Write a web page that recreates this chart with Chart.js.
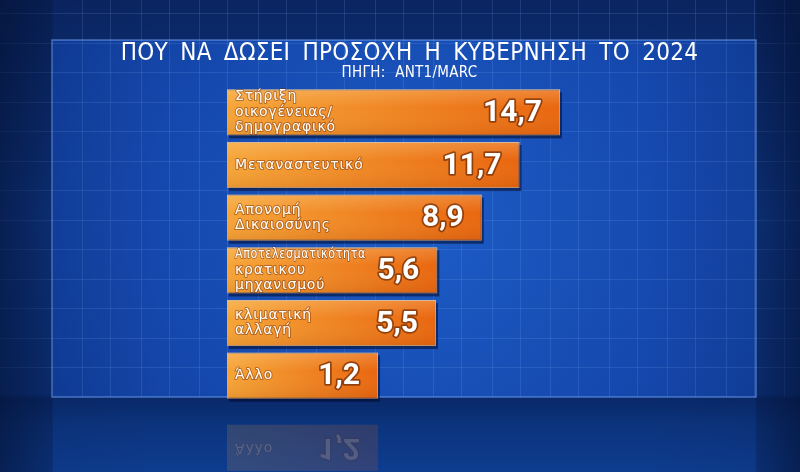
<!DOCTYPE html>
<html>
<head>
<meta charset="utf-8">
<script src="https://cdn.jsdelivr.net/npm/chart.js@4/dist/chart.umd.min.js"></script>
<style>
  html, body { margin: 0; padding: 0; background: #0b2a66; }
  #wrap { width: 800px; height: 472px; }
</style>
</head>
<body>
<div id="wrap"><canvas id="topics"></canvas></div>
<script>
// data
const categories = [
  ["Στήριξη", "οικογένειας/", "δημογραφικό"],
  ["Μεταναστευτικό"],
  ["Απονομή", "Δικαιοσύνης"],
  ["Αποτελεσματικότητα", "κρατικου", "μηχανισμού"],
  ["κλιματική", "αλλαγή"],
  ["Άλλο"]
];
const values = [14.7, 11.7, 8.9, 5.6, 5.5, 1.2];
const titleText = "ΠΟΥ ΝΑ ΔΩΣΕΙ ΠΡΟΣΟΧΗ Η ΚΥΒΕΡΝΗΣΗ ΤΟ 2024";
const sourceText = "ΠΗΓΗ: ΑΝΤ1/MARC";

// bars start from a fixed label block, this is the value at its left edge
const barBase = -10;

function fmt(v) {
  return v.toFixed(1).replace('.', ',');
}

// studio background: blue wall with a grid, a lighter panel and a floor
const studioBackground = {
  id: 'studioBackground',
  beforeDraw(chart) {
    const ctx = chart.ctx;
    const w = chart.width, h = chart.height;
    ctx.save();
    let g = ctx.createLinearGradient(0, 0, 0, h);
    g.addColorStop(0, '#0a2561');
    g.addColorStop(0.45, '#0f3a8c');
    g.addColorStop(0.835, '#0d3582');
    g.addColorStop(0.845, '#09296a');
    g.addColorStop(0.9, '#0c347d');
    g.addColorStop(1, '#0e3c8f');
    ctx.fillStyle = g;
    ctx.fillRect(0, 0, w, h);

    // panel
    const px = 52, py = 40, pw = 704, ph = 357;
    g = ctx.createRadialGradient(420, 220, 30, 420, 220, 420);
    g.addColorStop(0, '#1c5ac4');
    g.addColorStop(0.6, '#1548ad');
    g.addColorStop(1, '#103c98');
    ctx.fillStyle = g;
    ctx.fillRect(px, py, pw, ph);

    // grid lines
    ctx.strokeStyle = 'rgba(140,185,255,0.15)';
    ctx.lineWidth = 1;
    ctx.beginPath();
    for (const off of [82, 110]) {
      for (let x = off; x < w; x += 58.5) {
        ctx.moveTo(Math.round(x) + 0.5, 0);
        ctx.lineTo(Math.round(x) + 0.5, 397);
      }
    }
    for (const off of [13, 43]) {
      for (let y = off; y < 397; y += 59) {
        ctx.moveTo(0, Math.round(y) + 0.5);
        ctx.lineTo(w, Math.round(y) + 0.5);
      }
    }
    ctx.stroke();

    // darker sides
    g = ctx.createLinearGradient(0, 0, w, 0);
    g.addColorStop(0, 'rgba(3,14,45,0.6)');
    g.addColorStop(0.065, 'rgba(3,14,45,0.3)');
    g.addColorStop(0.067, 'rgba(3,14,45,0.06)');
    g.addColorStop(0.2, 'rgba(3,14,45,0)');
    g.addColorStop(0.8, 'rgba(3,14,45,0)');
    g.addColorStop(0.944, 'rgba(3,14,45,0.06)');
    g.addColorStop(0.946, 'rgba(3,14,45,0.3)');
    g.addColorStop(1, 'rgba(3,14,45,0.6)');
    ctx.fillStyle = g;
    ctx.fillRect(0, 0, w, h);

    // panel border
    ctx.strokeStyle = 'rgba(130,180,255,0.5)';
    ctx.lineWidth = 1.5;
    ctx.strokeRect(px, py, pw, ph);
    ctx.restore();

    // title letters are spaced out on the TV graphic
    ctx.letterSpacing = '0.3px';
    ctx.wordSpacing = '5px';
  }
};

// bar shadows, highlight, labels, values and the floor reflection
const barText = {
  id: 'barText',
  beforeDatasetsDraw(chart) {
    const ctx = chart.ctx;
    ctx.letterSpacing = '0px';
    ctx.wordSpacing = '0px';
    ctx.save();
    chart.getDatasetMeta(0).data.forEach(bar => {
      const top = bar.y - bar.height / 2;
      ctx.fillStyle = 'rgba(2,10,40,0.55)';
      ctx.fillRect(bar.base + 2, top + 3, bar.x - bar.base, bar.height);
    });
    ctx.restore();
  },
  afterDatasetsDraw(chart) {
    const ctx = chart.ctx;
    const meta = chart.getDatasetMeta(0);
    ctx.save();
    meta.data.forEach((bar, i) => {
      const top = bar.y - bar.height / 2;
      // top highlight
      const hg = ctx.createLinearGradient(0, top, 0, top + bar.height);
      hg.addColorStop(0, 'rgba(255,230,180,0.25)');
      hg.addColorStop(0.4, 'rgba(255,230,180,0)');
      hg.addColorStop(1, 'rgba(120,40,0,0.12)');
      ctx.fillStyle = hg;
      ctx.fillRect(bar.base, top, bar.x - bar.base, bar.height);
      drawBarText(ctx, bar, i, 1);
    });

    // reflection of the last bar on the floor
    const last = meta.data[meta.data.length - 1];
    const axis = last.y + last.height / 2 + 13;
    ctx.save();
    ctx.beginPath();
    ctx.rect(0, axis, chart.width, chart.height - axis);
    ctx.clip();
    ctx.translate(0, 2 * axis);
    ctx.scale(1, -1);
    ctx.globalAlpha = 0.16;
    const top = last.y - last.height / 2;
    const rg = ctx.createLinearGradient(last.base, 0, last.x, 0);
    rg.addColorStop(0, '#f6a437');
    rg.addColorStop(1, '#e9660f');
    ctx.fillStyle = rg;
    ctx.fillRect(last.base, top, last.x - last.base, last.height);
    drawBarText(ctx, last, meta.data.length - 1, 0.16);
    ctx.restore();
    ctx.restore();
  }
};

function drawBarText(ctx, bar, i, alpha) {
  const lines = categories[i];
  const lh = 15.5;
  ctx.save();
  ctx.globalAlpha = alpha;
  ctx.textAlign = 'left';
  ctx.textBaseline = 'middle';
  ctx.font = '14px "DejaVu Sans", sans-serif';
  ctx.letterSpacing = '0.8px';
  ctx.lineJoin = 'round';
  lines.forEach((line, k) => {
    const y = bar.y + (k - (lines.length - 1) / 2) * lh;
    ctx.strokeStyle = 'rgba(110,40,0,0.45)';
    ctx.lineWidth = 2;
    ctx.strokeText(line, bar.base + 8, y, 131);
    ctx.fillStyle = '#ffffff';
    ctx.fillText(line, bar.base + 8, y, 131);
  });
  ctx.letterSpacing = '0px';
  ctx.textAlign = 'right';
  ctx.font = 'bold 30px Roboto, sans-serif';
  ctx.strokeStyle = 'rgba(90,30,0,0.6)';
  ctx.lineWidth = 3.5;
  ctx.strokeText(fmt(values[i]), bar.x - 18, bar.y + 1);
  ctx.fillStyle = '#ffffff';
  ctx.fillText(fmt(values[i]), bar.x - 18, bar.y + 1);
  ctx.restore();
}

new Chart(document.getElementById('topics'), {
  type: 'bar',
  data: {
    labels: categories,
    datasets: [{
      data: values,
      base: barBase,
      backgroundColor: function(c) {
        const chart = c.chart;
        if (!chart.chartArea) return '#ee7a1a';
        const x = chart.scales.x;
        const x0 = x.getPixelForValue(barBase);
        const x1 = x.getPixelForValue(c.raw);
        const g = chart.ctx.createLinearGradient(x0, 0, x1, 0);
        g.addColorStop(0, '#f6a437');
        g.addColorStop(1, '#e9660f');
        return g;
      },
      borderColor: 'rgba(255,200,130,0.75)',
      borderWidth: 1,
      borderSkipped: false,
      barPercentage: 0.876,
      categoryPercentage: 1
    }]
  },
  options: {
    indexAxis: 'y',
    responsive: true,
    maintainAspectRatio: false,
    animation: false,
    layout: { padding: { top: 28, left: 19, right: 0, bottom: 70 } },
    scales: {
      x: { min: barBase, max: 32.5, display: false },
      y: {
        ticks: { display: false },
        grid: { display: false },
        border: { display: false },
        afterFit(scale) { scale.width = 208; }
      }
    },
    plugins: {
      legend: { display: false },
      tooltip: { enabled: false },
      title: {
        display: true,
        text: titleText,
        color: '#ffffff',
        font: { family: '"DejaVu Sans Condensed", Roboto, sans-serif', size: 24, weight: 'normal', lineHeight: 1.0 },
        padding: { top: 14, bottom: 0 }
      },
      subtitle: {
        display: true,
        text: sourceText,
        color: '#ffffff',
        font: { family: '"DejaVu Sans Condensed", Roboto, sans-serif', size: 15, weight: 'normal', lineHeight: 1.0 },
        padding: { top: 0, bottom: 5 }
      }
    }
  },
  plugins: [studioBackground, barText]
});
</script>
</body>
</html>
